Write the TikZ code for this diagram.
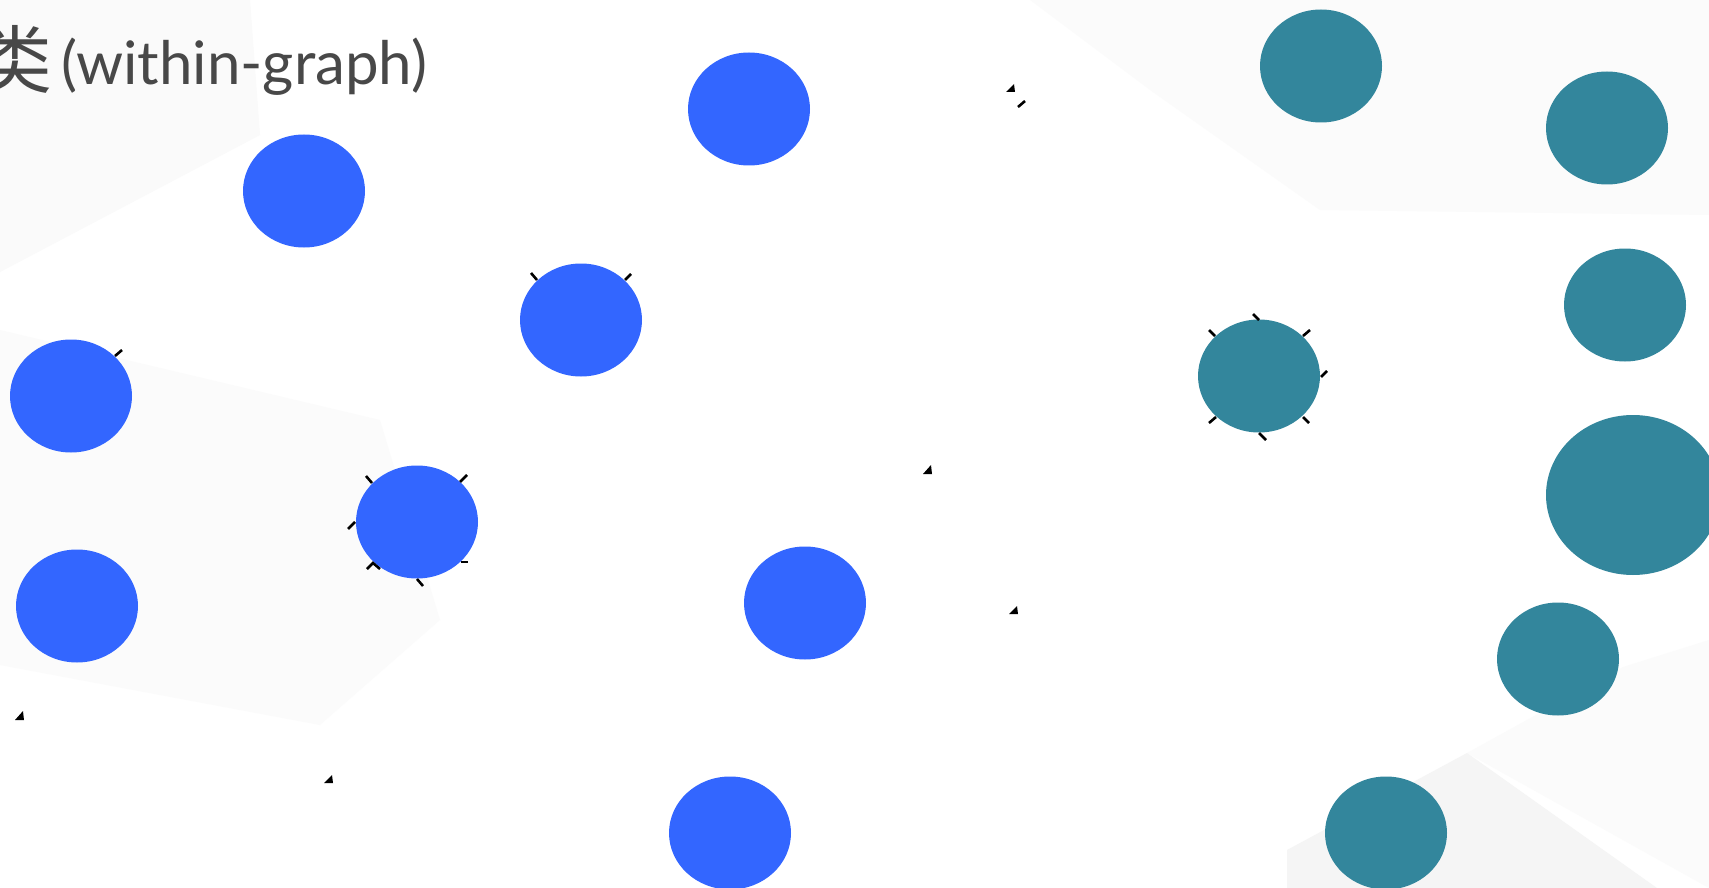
\documentclass[tikz,border=0pt]{standalone}
\usepackage{fontspec}
\newfontfamily\cjk{Noto Sans CJK SC}
\newfontfamily\latin{Lato}
\usetikzlibrary{shapes.geometric}
\definecolor{nblue}{HTML}{3366FF}
\definecolor{nteal}{HTML}{33869C}
\definecolor{ttext}{HTML}{484848}
\tikzset{
  bnode/.style={ellipse,fill=nblue,draw=none,inner sep=0,minimum width=122pt,minimum height=113pt},
  tnode/.style={ellipse,fill=nteal,draw=none,inner sep=0,minimum width=122pt,minimum height=113pt},
  tickmark/.style={line width=2.6pt,black},
  tiptri/.style={fill=black,draw=none},
  bgpoly/.style={draw=none}
}
\begin{document}
\begin{tikzpicture}[x=1pt,y=-1pt]
\useasboundingbox (0,0) rectangle (1709,888);
\fill[white] (0,0) rectangle (1709,888);
% faint background polygons
\fill[bgpoly,fill=black!2] (0,0) -- (250,0) -- (260,135) -- (0,272) -- cycle;
\fill[bgpoly,fill=black!1.5] (0,330) -- (380,420) -- (440,620) -- (320,725) -- (0,665) -- cycle;
\fill[bgpoly,fill=black!1.5] (1030,0) -- (1709,0) -- (1709,215) -- (1320,210) -- (1150,90) -- cycle;
\fill[bgpoly,fill=black!1.5] (1467,753) -- (1623,667) -- (1709,640) -- (1709,888) -- cycle;
\fill[bgpoly,fill=black!4] (1287,850) -- (1467,753) -- (1709,925) -- (1709,888) -- (1287,888) -- cycle;
% title
\node[anchor=base east,inner sep=0,text=ttext,font=\cjk\fontsize{74}{80}\selectfont] (titlecjk) at (53,88) {类};
\node[anchor=base west,inner sep=0,text=ttext,font=\latin\fontsize{60}{62}\selectfont] (title) at (61,85) {(within-graph)};
% blue nodes
\node[bnode] (b1) at (304,191) {};
\node[bnode] (b2) at (749,109) {};
\node[bnode] (b3) at (581,320) {};
\node[bnode] (b4) at (71,396) {};
\node[bnode] (b5) at (417,522) {};
\node[bnode] (b6) at (77,606) {};
\node[bnode] (b7) at (805,603) {};
\node[bnode] (b8) at (730,833) {};
% teal nodes
\node[tnode] (t1) at (1321,66) {};
\node[tnode] (t2) at (1607,128) {};
\node[tnode] (t3) at (1625,305) {};
\node[tnode] (t4) at (1259,376) {};
\node[tnode,minimum width=174pt,minimum height=160pt] (t5) at (1633,495) {};
\node[tnode] (t6) at (1558,659) {};
\node[tnode] (t7) at (1386,833) {};
% tick marks around b5
\draw[tickmark] (366,476) -- (372,483);
\draw[tickmark] (460,482) -- (467,475);
\draw[tickmark] (348,529) -- (355,522);
\draw[tickmark] (367,569) -- (373,563) -- (380,569);
\draw[tickmark] (461,562) -- (468,562);
\draw[tickmark] (417,579) -- (423,586);
% tick marks around t4
\draw[tickmark] (1253,314) -- (1259,320);
\draw[tickmark] (1209,330) -- (1215,336);
\draw[tickmark] (1303,336) -- (1310,330);
\draw[tickmark] (1321,377) -- (1327,371);
\draw[tickmark] (1209,423) -- (1216,417);
\draw[tickmark] (1303,417) -- (1309,423);
\draw[tickmark] (1259,433) -- (1266,440);
% tick marks around b3, b4
\draw[tickmark] (531,273) -- (537,280);
\draw[tickmark] (625,280) -- (631,274);
\draw[tickmark] (115,356) -- (122,350);
\draw[tickmark] (1018,107) -- (1025,101);
% tiny arrow tips
\fill[tiptri] (1006,92) -- (1014,84) -- (1015,92) -- cycle;
\fill[tiptri] (923,474) -- (931,465) -- (932,474) -- cycle;
\fill[tiptri] (1009,614) -- (1017,606) -- (1018,614) -- cycle;
\fill[tiptri] (15,720) -- (23,711) -- (24,720) -- cycle;
\fill[tiptri] (324,783) -- (332,775) -- (333,783) -- cycle;
\end{tikzpicture}
\end{document}
